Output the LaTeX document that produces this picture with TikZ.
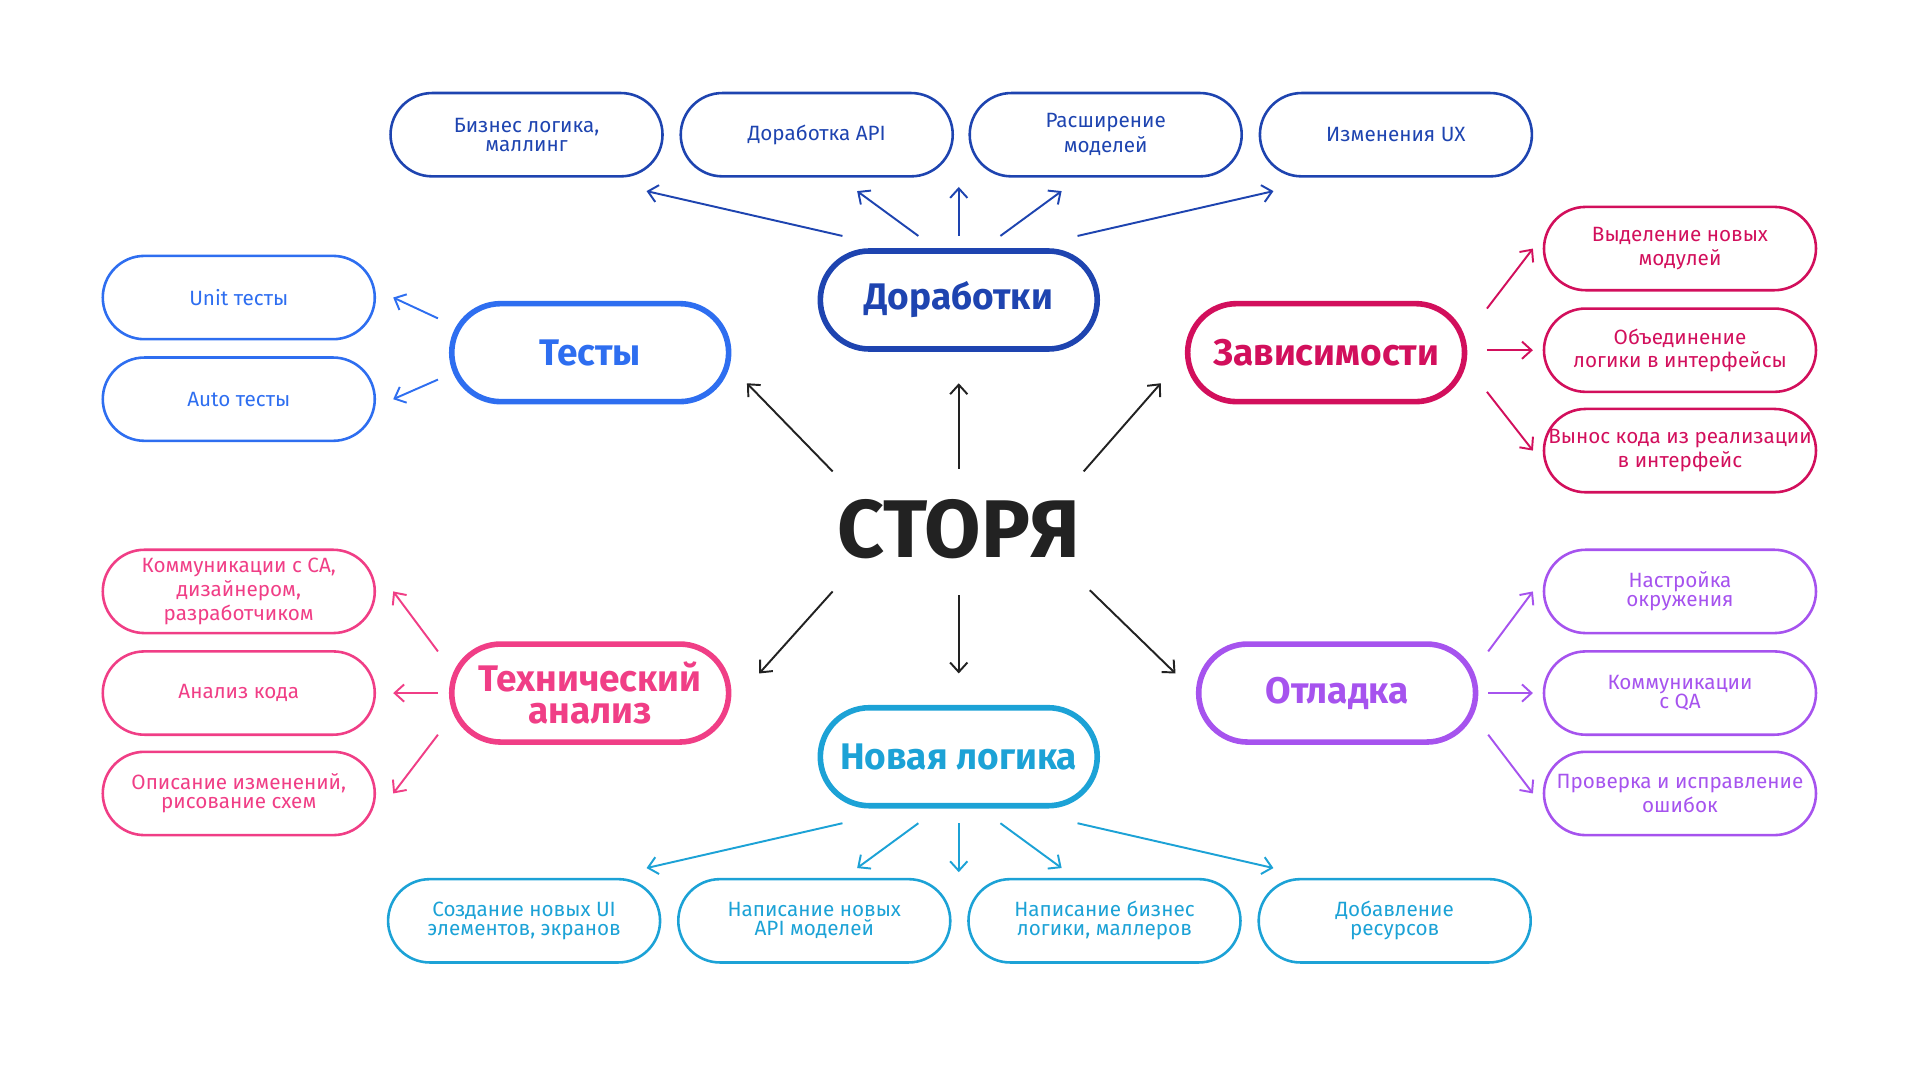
\documentclass[tikz,border=0pt]{standalone}
\usepackage{fontspec}
\setmainfont{Fira Sans}
\usetikzlibrary{arrows.meta,calc}
\definecolor{cdor}{HTML}{1E44B0}
\definecolor{ctest}{HTML}{2E6EF0}
\definecolor{cdep}{HTML}{D20F5C}
\definecolor{ctech}{HTML}{F03E86}
\definecolor{cdbg}{HTML}{A653EE}
\definecolor{cnew}{HTML}{1CA2D6}
\definecolor{cmain}{HTML}{222222}

\tikzset{
  leaf/.style={draw, rounded corners=3.4mm, line width=0.6pt, minimum width=22.2mm, minimum height=6.8mm,
    inner sep=0pt, align=center, font=\fontsize{4.8}{4.4}\selectfont},
  hub/.style={draw, rounded corners=4mm, line width=1.3pt, minimum width=22.6mm, minimum height=8mm,
    inner sep=0pt, align=center, font=\fontsize{8.6}{7.6}\selectfont\bfseries},
  arr/.style={->, line width=0.45pt, >={Straight Barb[length=2.2pt,width=4pt]}}
}

\begin{document}
\begin{tikzpicture}[x=0.01cm, y=-0.01cm]
        \useasboundingbox (0,0) rectangle (1568,882);
        % centre
        \node [cmain, font=\fontsize{19}{18}\selectfont\bfseries] (story) at (783,432) {СТОРЯ};
        % hubs
        \node [hub, cdor] (dor) at (783,245) {Доработки};
        \node [hub, ctest] (tests) at (482,288) {Тесты};
        \node [hub, cdep] (dep) at (1083,288) {Зависимости};
        \node [hub, ctech] (tech) at (482,566) {Технический\\анализ};
        \node [hub, cdbg] (dbg) at (1092,566) {Отладка};
        \node [hub, cnew] (nl) at (783,618) {Новая логика};
        % top leaves
        \node [leaf, cdor] (b1) at (430,110) {Бизнес логика,\\маллинг};
        \node [leaf, cdor] (b2) at (667,110) {Доработка API};
        \node [leaf, cdor] (b3) at (903,110) {Расширение\\моделей};
        \node [leaf, cdor] (b4) at (1140,110) {Изменения UX};
        % tests leaves
        \node [leaf, ctest] (unit) at (195,243) {Unit тесты};
        \node [leaf, ctest] (auto) at (195,326) {Auto тесты};
        % dependency leaves
        \node [leaf, cdep] (d1) at (1372,203) {Выделение новых\\модулей};
        \node [leaf, cdep] (d2) at (1372,286) {Объединение\\логики в интерфейсы};
        \node [leaf, cdep] (d3) at (1372,368) {Вынос кода из реализации\\в интерфейс};
        % analysis leaves
        \node [leaf, ctech] (t1) at (195,483) {Коммуникации с СА,\\дизайнером,\\разработчиком};
        \node [leaf, ctech] (t2) at (195,566) {Анализ кода};
        \node [leaf, ctech] (t3) at (195,648) {Описание изменений,\\рисование схем};
        % debug leaves
        \node [leaf, cdbg] (g1) at (1372,483) {Настройка\\окружения};
        \node [leaf, cdbg] (g2) at (1372,566) {Коммуникации\\с QA};
        \node [leaf, cdbg] (g3) at (1372,648) {Проверка и исправление\\ошибок};
        % bottom leaves
        \node [leaf, cnew] (n1) at (428,752) {Создание новых UI\\элементов, экранов};
        \node [leaf, cnew] (n2) at (665,752) {Написание новых\\API моделей};
        \node [leaf, cnew] (n3) at (902,752) {Написание бизнес\\логики, маллеров};
        \node [leaf, cnew] (n4) at (1139,752) {Добавление\\ресурсов};

        % centre arrows
        \draw [arr, cmain] ($(story)+(0,-49)$) -- ($(dor)+(0,68)$);
        \draw [arr, cmain] ($(story)+(-103,-47)$) -- ($(tests)+(128,25)$);
        \draw [arr, cmain] ($(story)+(102,-47)$) -- ($(dep)+(-135,25)$);
        \draw [arr, cmain] ($(story)+(-103,51)$) -- ($(tech)+(138,-16)$);
        \draw [arr, cmain] ($(story)+(107,50)$) -- ($(dbg)+(-132,-16)$);
        \draw [arr, cmain] ($(story)+(0,54)$) -- ($(nl)+(0,-68)$);

        % top arrows
        \draw [arr, cdor] ($(dor.north)+(-95,-10)$) -- ($(b1.south)+(98,11)$);
        \draw [arr, cdor] ($(dor.north)+(-33,-10)$) -- ($(b2.south)+(33,11)$);
        \draw [arr, cdor] ($(dor.north)+(0,-10)$) -- ($(dor.north)+(0,-50)$);
        \draw [arr, cdor] ($(dor.north)+(34,-10)$) -- ($(b3.south)+(-36,11)$);
        \draw [arr, cdor] ($(dor.north)+(97,-10)$) -- ($(b4.south)+(-100,11)$);

        % bottom arrows
        \draw [arr, cnew] ($(nl.south)+(-95,12)$) -- ($(n1.north)+(100,-8)$);
        \draw [arr, cnew] ($(nl.south)+(-33,12)$) -- ($(n2.north)+(35,-8)$);
        \draw [arr, cnew] ($(nl.south)+(0,12)$) -- ($(nl.south)+(0,52)$);
        \draw [arr, cnew] ($(nl.south)+(34,12)$) -- ($(n3.north)+(-35,-8)$);
        \draw [arr, cnew] ($(nl.south)+(97,12)$) -- ($(n4.north)+(-99,-8)$);

        % side arrows
        \draw [arr, ctest] ($(tests.west)+(-9,-28)$) -- ($(unit.east)+(14,0)$);
        \draw [arr, ctest] ($(tests.west)+(-9,22)$) -- ($(auto.east)+(14,0)$);
        \draw [arr, cdep] ($(dep.east)+(16,-36)$) -- ($(d1.west)+(-8,0)$);
        \draw [arr, cdep] ($(dep.east)+(16,-2)$) -- ($(d2.west)+(-8,0)$);
        \draw [arr, cdep] ($(dep.east)+(16,32)$) -- ($(d3.west)+(-8,0)$);
        \draw [arr, ctech] ($(tech.west)+(-9,-34)$) -- ($(t1.east)+(14,0)$);
        \draw [arr, ctech] ($(tech.west)+(-9,0)$) -- ($(t2.east)+(14,0)$);
        \draw [arr, ctech] ($(tech.west)+(-9,34)$) -- ($(t3.east)+(14,0)$);
        \draw [arr, cdbg] ($(dbg.east)+(8,-34)$) -- ($(g1.west)+(-8,0)$);
        \draw [arr, cdbg] ($(dbg.east)+(8,0)$) -- ($(g2.west)+(-8,0)$);
        \draw [arr, cdbg] ($(dbg.east)+(8,34)$) -- ($(g3.west)+(-8,0)$);
    \end{tikzpicture}
\end{document}
